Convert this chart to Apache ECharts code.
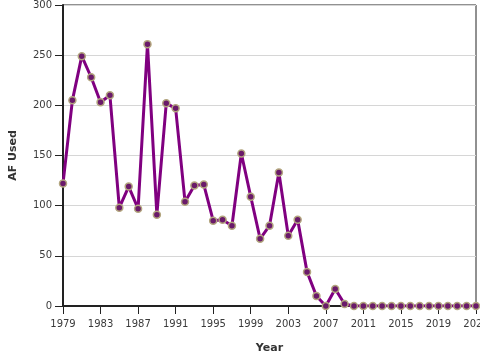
<!DOCTYPE html>
<html>
<head>
<meta charset="utf-8">
<script src="https://cdn.jsdelivr.net/npm/echarts@6/dist/echarts.min.js"></script>
<style>
  html, body { margin: 0; padding: 0; background: #ffffff; }
  #chart { width: 480px; height: 360px; }
</style>
</head>
<body>
<div id="chart"></div>
<script>
const years = [];
for (let y = 1979; y <= 2023; y++) years.push(String(y));

const afUsed = [
  122, 205, 249, 228, 203, 210, 98, 119, 97, 261,
  91, 202, 197, 104, 120, 121, 85, 86, 80, 152,
  109, 67, 80, 133, 70, 86, 34, 10, 0, 17,
  2, 0, 0, 0, 0, 0, 0, 0, 0, 0,
  0, 0, 0, 0, 0
];

const labelStyle = {
  fontFamily: 'DejaVu Sans',
  fontSize: 10,
  color: '#3a3a3a'
};

const nameStyle = {
  fontFamily: 'DejaVu Sans',
  fontSize: 11,
  fontWeight: 'bold',
  color: '#333'
};

const chart = echarts.init(document.getElementById('chart'));
chart.setOption({
  animation: false,
  grid: {
    left: 63,
    right: 4,
    top: 5,
    bottom: 54,
    containLabel: false,
    outerBoundsMode: 'none',
    show: true,
    borderColor: '#222',
    borderWidth: 1
  },
  xAxis: {
    type: 'category',
    data: years,
    boundaryGap: false,
    name: 'Year',
    nameLocation: 'center',
    nameGap: 37,
    nameTextStyle: nameStyle,
    axisLine: { lineStyle: { color: '#222', width: 2 } },
    axisTick: { interval: 3, length: 8, lineStyle: { color: '#222' } },
    axisLabel: { ...labelStyle, interval: 3, margin: 13 },
    splitLine: { show: false }
  },
  yAxis: {
    type: 'value',
    min: 0,
    max: 300,
    interval: 50,
    name: 'AF Used',
    nameLocation: 'center',
    nameGap: 44,
    nameTextStyle: nameStyle,
    axisLine: { show: true, lineStyle: { color: '#222', width: 2 } },
    axisTick: { show: true, length: 8, lineStyle: { color: '#222' } },
    axisLabel: { ...labelStyle, margin: 11 },
    splitLine: { lineStyle: { color: '#d6d6d6', width: 1 } }
  },
  series: [{
    type: 'line',
    data: afUsed,
    symbol: 'circle',
    symbolSize: 7,
    showAllSymbol: true,
    lineStyle: { color: '#800080', width: 3 },
    itemStyle: { color: '#6a1a6a', borderColor: '#b3a67f', borderWidth: 1.5 }
  }]
});
</script>
</body>
</html>
